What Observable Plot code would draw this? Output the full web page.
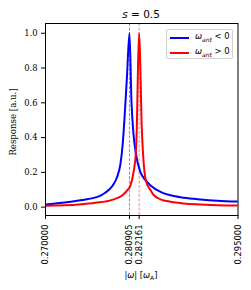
<!DOCTYPE html>
<html>
<head>
<meta charset="utf-8">
<script src="https://cdn.jsdelivr.net/npm/d3@7"></script>
<script src="https://cdn.jsdelivr.net/npm/@observablehq/plot@0.6"></script>
<style>
  body { margin: 0; background: #fff; }
  #wrap { position: relative; width: 251px; height: 290px; font-family: "DejaVu Sans", sans-serif; color: #000; }
  .abs { position: absolute; white-space: nowrap; line-height: 1; }
</style>
</head>
<body>
<div id="wrap"></div>
<script>
// Peak positions (tick labels)
const xTicks = [0.27, 0.280905, 0.282161, 0.295];
const yTicks = [0, 0.2, 0.4, 0.6, 0.8, 1.0];
const peakBlue = 0.280905;
const peakRed = 0.282161;

// ω_ant < 0 (blue)
const omegaBlue = [0.27, 0.2722, 0.27432, 0.27649, 0.27714, 0.27779, 0.27866, 0.27931, 0.27974, 0.28004, 0.2803, 0.28058, 0.280905, 0.28117, 0.28143, 0.28173, 0.28234, 0.28299, 0.28364, 0.28494, 0.28623, 0.28796, 0.29013, 0.2923, 0.295];
const respBlue  = [0.0155, 0.025, 0.038, 0.056, 0.066, 0.084, 0.12, 0.175, 0.25, 0.37, 0.54, 0.75, 1.0, 0.60, 0.42, 0.31, 0.20, 0.155, 0.125, 0.088, 0.068, 0.054, 0.044, 0.037, 0.032];

// ω_ant > 0 (red)
const omegaRed = [0.27, 0.27432, 0.27649, 0.27866, 0.27996, 0.28061, 0.28104, 0.28143, 0.28173, 0.28188, 0.28201, 0.282161, 0.28232, 0.28247, 0.28264, 0.28286, 0.28312, 0.28364, 0.28403, 0.28494, 0.28623, 0.28796, 0.29013, 0.2923, 0.295];
const respRed  = [0.008, 0.0155, 0.025, 0.042, 0.067, 0.096, 0.125, 0.2, 0.31, 0.5, 0.8, 1.0, 0.8, 0.5, 0.33, 0.2, 0.14, 0.098, 0.07, 0.045, 0.031, 0.021, 0.0155, 0.0115, 0.009];

const blue = omegaBlue.map((w, i) => ({w, r: respBlue[i]}));
const red = omegaRed.map((w, i) => ({w, r: respRed[i]}));
const peaks = [{w: peakBlue, c: "blue"}, {w: peakRed, c: "red"}];

const chart = Plot.plot({
  width: 251,
  height: 290,
  marginLeft: 45,
  marginRight: 13.5,
  marginTop: 23,
  marginBottom: 75,
  style: {background: "transparent", overflow: "visible"},
  x: {domain: [0.27, 0.295]},
  y: {domain: [-0.048, 1.056]},
  marks: [
    Plot.ruleX(peaks, {x: "w", stroke: "c", strokeWidth: 0.8, strokeOpacity: 0.6, strokeDasharray: "3,1.5"}),
    Plot.line(blue, {x: "w", y: "r", stroke: "blue", strokeWidth: 2, curve: "monotone-x", clip: true}),
    Plot.line(red, {x: "w", y: "r", stroke: "red", strokeWidth: 2, curve: "monotone-x", clip: true}),
    Plot.frame({stroke: "#000", strokeWidth: 1}),
    Plot.axisY(yTicks, {tickSize: 4, tickPadding: 4, tickFormat: ".1f", label: null, fontFamily: "DejaVu Serif", fontSize: 8.4, stroke: "#000"}),
    Plot.axisX(xTicks, {tickSize: 4, tickPadding: 5, tickFormat: ".6f", tickRotate: -90, label: null, fontFamily: "DejaVu Sans", fontSize: 8.4, stroke: "#000"})
  ]
});
const wrap = document.getElementById("wrap");
chart.style.position = "absolute";
chart.style.left = "0px";
chart.style.top = "0px";
wrap.appendChild(chart);

function add(html, style) {
  const d = document.createElement("div");
  d.className = "abs";
  d.innerHTML = html;
  Object.assign(d.style, style);
  wrap.appendChild(d);
  return d;
}
// Title
add('<i>s</i> = 0.5', {left: "141px", top: "13.5px", transform: "translate(-50%,-50%)", fontSize: "10.5px"});
// x label
add('|<i>ω</i>| [<i>ω</i><sub style="font-size:6px;font-style:normal">A</sub>]', {left: "141px", top: "276px", transform: "translate(-50%,-50%)", fontSize: "8.4px"});
// y label
add('Response [a.u.]', {left: "13px", top: "122px", transform: "translate(-50%,-50%) rotate(-90deg)", fontSize: "8.6px", fontFamily: "DejaVu Serif"});
// Legend
add(
  '<div style="display:flex;align-items:center;height:15px"><span style="display:inline-block;width:19px;height:2px;background:blue;margin:0 6px 0 3px"></span><span><i>ω</i><sub style="font-size:6px"><i>ant</i></sub> &lt; 0</span></div>' +
  '<div style="display:flex;align-items:center;height:15px"><span style="display:inline-block;width:19px;height:2px;background:red;margin:0 6px 0 3px"></span><span><i>ω</i><sub style="font-size:6px"><i>ant</i></sub> &gt; 0</span></div>',
  {left: "166px", top: "29px", width: "67px", height: "30px", border: "1px solid #d0d0d0", borderRadius: "2px", background: "rgba(255,255,255,0.85)", fontSize: "8.4px", boxSizing: "border-box"}
);
</script>
</body>
</html>
